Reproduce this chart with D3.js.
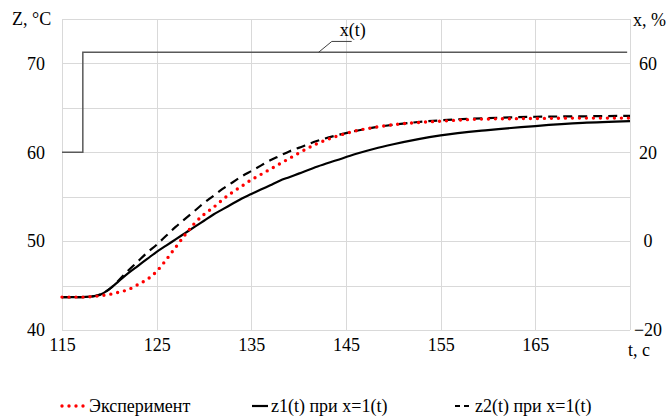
<!DOCTYPE html>
<html>
<head>
<meta charset="utf-8">
<script src="https://cdn.jsdelivr.net/npm/d3@7"></script>
<style>
  html, body { margin: 0; padding: 0; background: #fff; }
</style>
</head>
<body>
<svg id="chart" width="669" height="416"></svg>
<script>
// Time, s
const timeGrid = [115, 116, 117, 118, 119, 120, 121, 122, 123, 124, 125, 126, 127, 128, 129, 130,
  131, 132, 133, 134, 135, 136, 137, 138, 139, 140, 142, 144, 146, 148, 150, 155, 160, 165, 170, 175];

// Experimental temperature, °C
const experiment = [43.7, 43.7, 43.7, 43.75, 43.85, 44.0, 44.25, 44.55, 45.1, 45.7, 46.6, 47.9, 49.3, 50.7, 52.0, 53.0,
  53.8, 54.7, 55.5, 56.2, 56.9, 57.5, 58.1, 58.7, 59.3, 59.9, 61.0, 61.8, 62.4, 62.8, 63.1, 63.5, 63.75, 63.8, 63.85, 63.85];

// Model z1(t) for a unit step x = 1(t), °C
const z1 = [43.7, 43.7, 43.7, 43.75, 43.95, 44.6, 45.5, 46.4, 47.2, 48.0, 48.8, 49.5, 50.2, 50.9, 51.6, 52.3,
  53.0, 53.6, 54.2, 54.8, 55.3, 55.8, 56.3, 56.8, 57.2, 57.6, 58.4, 59.1, 59.8, 60.4, 60.9, 61.9, 62.5, 62.95, 63.3, 63.5];

// Model z2(t) for a unit step x = 1(t), °C
const z2 = [43.7, 43.7, 43.7, 43.75, 44.0, 44.6, 45.6, 46.7, 47.7, 48.7, 49.6, 50.6, 51.6, 52.5, 53.4, 54.3,
  55.1, 55.9, 56.6, 57.3, 57.9, 58.5, 59.1, 59.6, 60.1, 60.5, 61.3, 61.9, 62.4, 62.8, 63.1, 63.6, 63.85, 64.0, 64.05, 64.1];

// Input step x(t), %
const stepTime = [115, 117.2, 117.2, 174.7];
const stepValue = [20, 20, 65, 65];

// Axis ticks
const xTicks = [115, 125, 135, 145, 155, 165];
const zTicks = [40, 50, 60, 70];
const pctTicks = [-20, 0, 20, 60];
const zGrid = [40, 45, 50, 55, 60, 65, 70, 75];
const tGrid = [115, 125, 135, 145, 155, 165, 175];

const fontSize = 18;

const svg = d3.select("#chart");

const x = d3.scaleLinear().domain([115, 175]).range([62, 630]);
const yZ = d3.scaleLinear().domain([40, 75]).range([330, 19]);
// Right axis shares the left gridlines: -20 / 0 / 20 / 60 sit on 40 / 50 / 60 / 70 °C
const yPct = d3.scaleLinear().domain(pctTicks).range([yZ(40), yZ(50), yZ(60), yZ(70)]);

function addText(sel) {
  return sel.append("text").style("font-family", '"Tinos"').attr("font-size", fontSize).attr("fill", "#000");
}

// Gridlines
const grid = svg.append("g").attr("stroke", "#d9d9d9").attr("stroke-width", 1);
grid.selectAll("line.h").data(zGrid).join("line")
  .attr("x1", x(115)).attr("x2", x(175))
  .attr("y1", d => Math.round(yZ(d)) + 0.5).attr("y2", d => Math.round(yZ(d)) + 0.5);
grid.selectAll("line.v").data(tGrid).join("line")
  .attr("y1", yZ(40)).attr("y2", yZ(75))
  .attr("x1", d => Math.round(x(d)) + 0.5).attr("x2", d => Math.round(x(d)) + 0.5);

// Axes (labels only; the frame comes from the gridlines)
const axL = svg.append("g").attr("transform", "translate(45,0)")
  .call(d3.axisLeft(yZ).tickValues(zTicks).tickSize(0).tickPadding(0));
const axR = svg.append("g").attr("transform", "translate(648,0)")
  .call(d3.axisRight(yPct).tickValues(pctTicks).tickSize(0).tickPadding(0));
axR.selectAll("text").attr("text-anchor", "middle");
const axB = svg.append("g").attr("transform", "translate(0,338)")
  .call(d3.axisBottom(x).tickValues(xTicks).tickSize(0).tickPadding(0));
[axL, axR, axB].forEach(a => {
  a.attr("font-family", null).attr("font-size", null);
  a.select(".domain").remove();
  a.selectAll("text").style("font-family", '"Tinos"').attr("font-size", fontSize).attr("fill", "#000");
});

// Axis titles
addText(svg).attr("x", 12).attr("y", 25).text("Z, °C");
addText(svg).attr("x", 633).attr("y", 26).text("x, %");
addText(svg).attr("x", 628).attr("y", 356).text("t, c");

// Input step x(t)
const stepLine = d3.line().x(d => x(d[0])).y(d => yPct(d[1]));
svg.append("path")
  .datum(stepTime.map((t, i) => [t, stepValue[i]]))
  .attr("d", stepLine)
  .attr("fill", "none").attr("stroke", "#595959").attr("stroke-width", 1.5);

// Callout for x(t)
const calloutPts = [[142.1, 65], [143.5, 69.9], [145.6, 69.9]];
svg.append("path")
  .datum(calloutPts)
  .attr("d", stepLine)
  .attr("fill", "none").attr("stroke", "#404040").attr("stroke-width", 1);
addText(svg).attr("x", x(145.6) - 12).attr("y", 36).text("x(t)");

// Temperature curves
const zLine = d3.line().x((d, i) => x(timeGrid[i])).y(d => yZ(d)).curve(d3.curveMonotoneX);

svg.append("path").datum(z1).attr("d", zLine)
  .attr("fill", "none").attr("stroke", "#000").attr("stroke-width", 2.2);

svg.append("path").datum(z2).attr("d", zLine)
  .attr("fill", "none").attr("stroke", "#000").attr("stroke-width", 2.2)
  .attr("stroke-dasharray", "9,6");

svg.append("path").datum(experiment).attr("d", zLine)
  .attr("fill", "none").attr("stroke", "#ff0000").attr("stroke-width", 3.4)
  .attr("stroke-linecap", "round").attr("stroke-dasharray", "0,7");

// Legend
const legendY = 406;
const legend = [
  { label: "Эксперимент", x0: 62, x1: 86, stroke: "#ff0000", width: 3.4, dash: "0,7", cap: "round" },
  { label: "z1(t) при x=1(t)", x0: 252, x1: 268, stroke: "#000", width: 2.2, dash: null, cap: "butt" },
  { label: "z2(t) при x=1(t)", x0: 455, x1: 472, stroke: "#000", width: 2.2, dash: "5,4", cap: "butt" }
];
const lg = svg.append("g").selectAll("g").data(legend).join("g");
lg.append("line")
  .attr("x1", d => d.x0).attr("x2", d => d.x1)
  .attr("y1", legendY).attr("y2", legendY)
  .attr("stroke", d => d.stroke).attr("stroke-width", d => d.width)
  .attr("stroke-dasharray", d => d.dash).attr("stroke-linecap", d => d.cap);
lg.each(function (d) {
  addText(d3.select(this)).attr("x", d.x1 + 3).attr("y", legendY).attr("dy", "0.35em").text(d.label);
});
</script>
</body>
</html>
